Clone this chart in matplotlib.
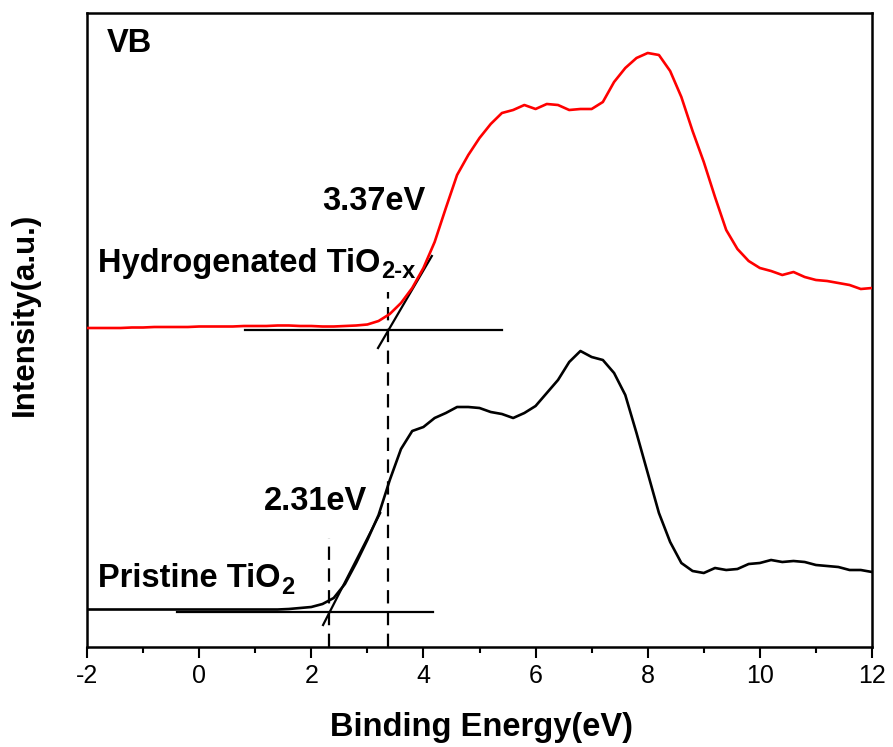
import numpy as np
import matplotlib
matplotlib.use("Agg")
import matplotlib.pyplot as plt
from matplotlib.ticker import MultipleLocator

# ---------------- data ----------------
energy = [round(-2.0 + 0.2 * i, 1) for i in range(71)]

hydrogenated = [319, 319, 319, 319, 319.5, 319.5, 320, 320, 320, 320,
                320.5, 320.5, 320.5, 320.5, 321, 321, 321, 321.5, 321.5, 321,
                321, 320.5, 320.5, 321, 321.5, 322.5, 326, 333, 344, 359,
                379, 405, 439, 472, 492, 509, 523, 534, 537, 542,
                538, 543, 542, 537, 538, 538, 545, 565, 579, 589,
                594, 592, 576, 550, 516, 485, 450, 417, 398, 386,
                379, 376, 372, 375, 370, 367, 366, 364, 362, 358, 359]

pristine = [37.5, 37.5, 37.5, 37.5, 37.5, 37.5, 37.5, 37.5, 37.5, 37.5,
            37.5, 37.5, 37.5, 37.5, 37.5, 37.5, 37.5, 37.5, 38, 39,
            40, 43, 49, 63, 84, 107, 132, 167, 198, 216,
            220, 229, 234, 240, 240, 239, 235, 233, 229, 234,
            241, 254, 267, 285, 296, 290, 287, 274, 252, 214,
            174, 134, 105, 84, 76, 74, 79, 77, 78, 83,
            84, 87, 85, 86, 85, 82, 81, 80, 77, 77, 75]

# band-edge construction lines
h_base_x = [0.82, 5.40]; h_base_y = [317, 317]
h_tan_x = [3.19, 4.15];  h_tan_y = [299, 391]
h_edge = 3.37; h_edge_top = 355
p_base_x = [-0.395, 4.17]; p_base_y = [35, 35]
p_tan_x = [2.21, 3.23];   p_tan_y = [22, 134]
p_edge = 2.31; p_edge_top = 109

xticks = [-2, 0, 2, 4, 6, 8, 10, 12]

# ---------------- fonts ----------------
plt.rcParams['font.family'] = ['Liberation Sans', 'DejaVu Sans']
plt.rcParams['axes.unicode_minus'] = False

# ---------------- figure ----------------
fig = plt.figure(figsize=(8.93, 7.47), dpi=100)
ax = fig.add_axes([87/893, 1 - 647/747, (872 - 87)/893, (647 - 13)/747])

ax.plot(energy, hydrogenated, color='#ff0000', lw=1.9, zorder=3)
ax.plot(energy, pristine, color='black', lw=1.9, zorder=3)

ax.plot(h_base_x, h_base_y, color='black', lw=1.6)
ax.plot(h_tan_x, h_tan_y, color='black', lw=1.6)
ax.plot([h_edge, h_edge], [0, h_edge_top], color='black', lw=1.6, ls=(0, (6, 3.8)))
ax.plot(p_base_x, p_base_y, color='black', lw=1.6)
ax.plot(p_tan_x, p_tan_y, color='black', lw=1.6)
ax.plot([p_edge, p_edge], [0, p_edge_top], color='black', lw=1.6, ls=(0, (6, 3.8)))

ax.set_xlim(-2, 12)
ax.set_ylim(0, 634)
ax.set_xticks(xticks)
ax.xaxis.set_minor_locator(MultipleLocator(1))
ax.set_yticks([])
ax.tick_params(axis='x', which='major', direction='out', length=8, width=1.5,
               top=False, pad=4, labelsize=18)
ax.tick_params(axis='x', which='minor', direction='out', length=4.5, width=1.5, top=False)
for s in ax.spines.values():
    s.set_linewidth(1.8)

ax.set_xlabel('Binding Energy(eV)', fontsize=23.5, fontweight='bold')
ax.xaxis.set_label_coords(0.502, -0.1025)
ax.set_ylabel('Intensity(a.u.)', fontsize=22.5, fontweight='bold')
ax.yaxis.set_label_coords(-0.060, 0.5245)

fs = 23.5
ax.text(-1.64, 604, 'VB', fontsize=fs, fontweight='bold', ha='left', va='center')
ax.text(3.12, 446, '3.37eV', fontsize=fs, fontweight='bold', ha='center', va='center')
ax.text(2.08, 145, '2.31eV', fontsize=fs, fontweight='bold', ha='center', va='center')
t_h = ax.text(-1.80, 375, 'Hydrogenated TiO', fontsize=fs, fontweight='bold',
              ha='left', va='baseline')
t_p = ax.text(-1.80, 60, 'Pristine TiO', fontsize=fs, fontweight='bold',
              ha='left', va='baseline')

# subscripts placed right after the main words
fig.canvas.draw()
renderer = fig.canvas.get_renderer()
inv = ax.transData.inverted()
for txt, base_y, sub, drop in [(t_h, 375, '2-x', 6), (t_p, 60, '2', 7)]:
    bb = txt.get_window_extent(renderer)
    yb = ax.transData.transform((0, base_y))[1] - drop
    xd, yd = inv.transform((bb.x1 + 0.5, yb))
    ax.text(xd, yd, sub, fontsize=17, fontweight='bold', ha='left', va='baseline')

fig.savefig('out.png', dpi=100)
